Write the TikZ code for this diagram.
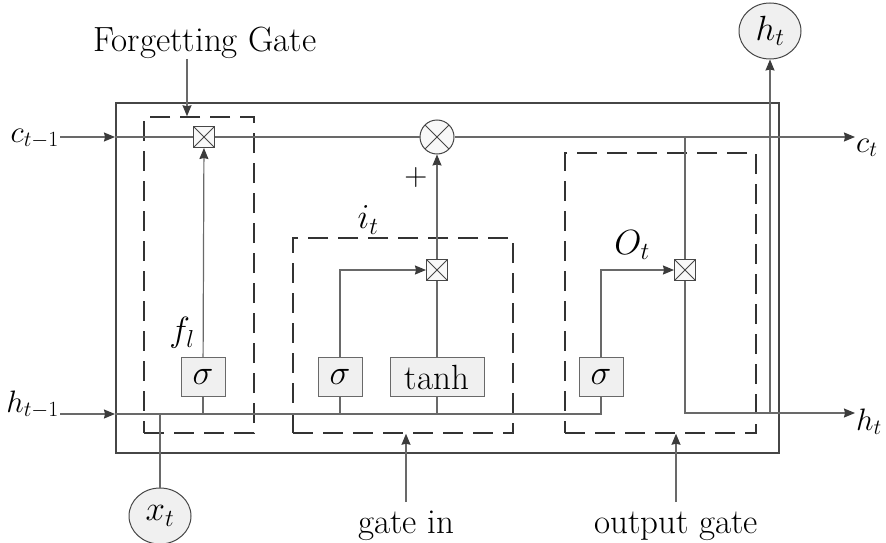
\RequirePackage{fix-cm}
\documentclass[tikz,border=0pt]{standalone}
\usepackage{tikz}
\usetikzlibrary{arrows.meta,positioning,calc,shapes.geometric}
\definecolor{wiregray} {RGB}{105,105,105}
\definecolor{framegray}{RGB}{ 70, 70, 70}
\definecolor{tipgray}  {RGB}{ 60, 60, 60}
\definecolor{cellfill} {RGB}{240,240,240}
\newcommand{\lblsize}{\fontsize{35}{40}\selectfont}

\begin{document}
\begin{tikzpicture}[x=1pt, y=-1pt,
  every node/.style={font=\lblsize, text=black},
  edgelbl/.style={font=\fontsize{31}{34}\selectfont, inner sep=1pt},
  wire/.style={draw=wiregray, line width=1.2pt},
  arr/.style={wire, -{Stealth[length=11pt, width=9pt, inset=1pt, color=tipgray]}},
  gatebox/.style={draw=black!80, line width=1.5pt, dash pattern=on 20pt off 10pt,
                  inner sep=0pt},
  actbox/.style={draw=wiregray, fill=cellfill, line width=1pt,
                 minimum height=39pt, minimum width=44pt, inner sep=2pt},
  mulbox/.style={draw=framegray, fill=cellfill!50, line width=1pt,
                 minimum size=21pt, inner sep=0pt,
                 path picture={\draw[framegray, line width=0.9pt]
                   (path picture bounding box.south west) -- (path picture bounding box.north east)
                   (path picture bounding box.north west) -- (path picture bounding box.south east);}},
  addcirc/.style={circle, draw=framegray, fill=cellfill!50, line width=1pt,
                  minimum size=34pt, inner sep=0pt,
                  path picture={\draw[framegray, line width=1pt]
                   ($(path picture bounding box.south west)!0.15!(path picture bounding box.north east)$) --
                   ($(path picture bounding box.south west)!0.85!(path picture bounding box.north east)$)
                   ($(path picture bounding box.north west)!0.15!(path picture bounding box.south east)$) --
                   ($(path picture bounding box.north west)!0.85!(path picture bounding box.south east)$);}},
  iobub/.style={ellipse, draw=framegray, fill=cellfill, line width=1pt,
                minimum width=62pt, minimum height=56pt, inner sep=0pt}]

\useasboundingbox (0,0) rectangle (886,543);

% cell and gate frames
\node[draw=framegray, line width=2pt, minimum width=663pt, minimum height=350pt,
      inner sep=0pt] (cell) at (447.5,278) {};
\node[gatebox, minimum width=110pt, minimum height=316pt] (fGate) at (199,275) {};
\node[gatebox, minimum width=220pt, minimum height=195pt] (iGate) at (403,335.5) {};
\node[gatebox, minimum width=191pt, minimum height=280pt] (oGate) at (660.5,293) {};

% operators
\node[mulbox]  (fMul) at (204,137) {};
\node[addcirc] (cMul) at (437,137) {};
\node[mulbox]  (iMul) at (437,270) {};
\node[mulbox]  (oMul) at (685,270) {};

\node[actbox] (sigF) at (203,377) {$\sigma$};
\node[actbox] (sigI) at (340,377) {$\sigma$};
\node[actbox, minimum width=94pt] (tanhI) at (437,377) {tanh};
\node[actbox] (sigO) at (601,377) {$\sigma$};

\node[iobub] (xIn)  at (160,516) {$x_t$};
\node[iobub] (hTop) at (770,31)  {$h_t$};

% outside labels
\node[edgelbl, anchor=base east] (cIn)  at (60,142)  {$c_{t-1}$};
\node[edgelbl, anchor=base east] (hIn)  at (60,412)  {$h_{t-1}$};
\node[edgelbl, anchor=base west] (cOut) at (855,152) {$c_t$};
\node[edgelbl, anchor=base west] (hOut) at (855,430) {$h_t$};

\node[anchor=base] (fLbl) at (205,52)  {Forgetting Gate};
\node[anchor=base] (iLbl) at (406,533) {gate in};
\node[anchor=base] (oLbl) at (676,533) {output gate};

\node (fSub)  at (182,333) {$f_l$};
\node (iSub)  at (368,220) {$i_t$};
\node (oSub)  at (632,245) {$O_t$};
\node[font=\fontsize{32}{34}\selectfont] (plus) at (416,178) {$+$};

% cell state line
\coordinate (cL) at ([yshift=5pt]cIn.base east);
\draw[arr] (cL) -- (cL -| cell.west);
\draw[wire] (cL -| cell.west) -- (fMul);
\draw[wire] (fMul) -- (cMul);
\draw[arr] (cMul) -- (cMul -| cOut.west);
\draw[wire] (oMul.north |- cMul) -- (oMul.north);

% hidden state line
\coordinate (hL) at ([yshift=-2pt]hIn.base east);
\draw[arr] (hL) -- (hL -| cell.west);
\draw[wire] (hL -| cell.west) -- (hL -| sigO.south) -- (sigO.south);
\foreach \g in {sigF,sigI,tanhI}
  \draw[wire] (\g.south) -- (\g.south |- hL);
\draw[wire] (xIn.north) -- (xIn.north |- hL);

% gate wiring
\draw[arr] (sigF) -- (fMul);
\draw[arr] (sigI.north) |- (iMul.west);
\draw[wire] (tanhI.north) -- (iMul.south);
\draw[arr] (iMul) -- (cMul);
\draw[arr] (sigO.north) |- (oMul.west);
\coordinate (hR) at (oMul.south |- 0,413);
\draw[arr] (oMul.south) -- (hR) -- (hR -| hOut.west);
\draw[arr] (hR -| hTop.south) -- (hTop.south);

% pointers to the gates
\draw[arr] ([xshift=-18pt]fLbl.north |- 0,59) -- ([xshift=-12pt]fGate.north);
\draw[arr] (iLbl.north |- 0,502) -- (iLbl.north |- iGate.south);
\draw[arr] (oLbl.north |- 0,502) -- (oLbl.north |- oGate.south);

\end{tikzpicture}
\end{document}
